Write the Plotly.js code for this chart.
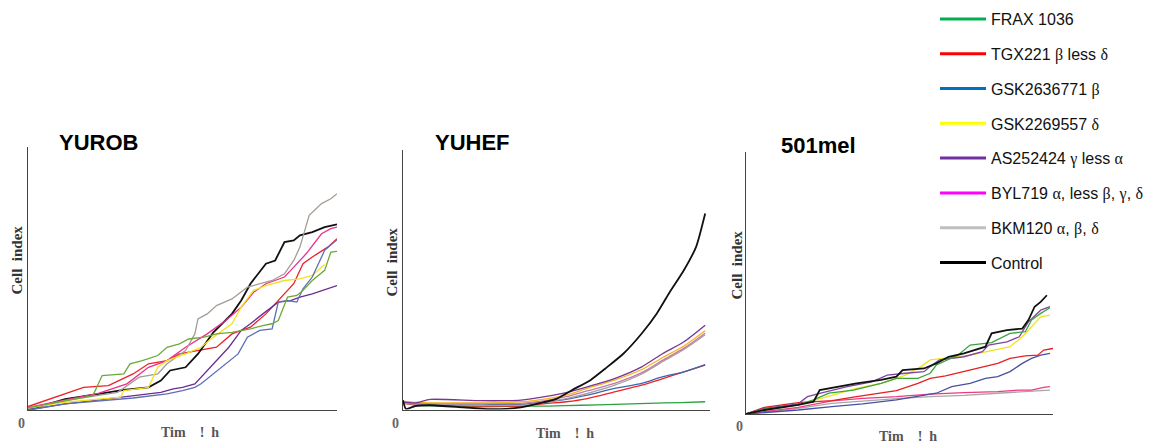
<!DOCTYPE html>
<html><head><meta charset="utf-8">
<script src="https://cdn.plot.ly/plotly-3.0.1.min.js"></script>
<style>html,body{margin:0;padding:0;background:#fff}#chart{width:1158px;height:447px}</style>
</head><body><div id="chart"></div>
<script>
// ---------- labels ----------
const panelTitles = ["YUROB", "YUHEF", "501mel"];
const yAxisLabel = "Cell\u00A0\u00A0index";
const xAxisLabel = "Tim\u00A0\u00A0\u00A0\u00A0!\u00A0\u00A0h";
const originLabel = "0";
const G = s => '<span style="font-family:Liberation Serif">' + s + '</span>';
const legendLabels = [
  "FRAX 1036",
  "TGX221 " + G("β") + " less " + G("δ"),
  "GSK2636771 " + G("β"),
  "GSK2269557 " + G("δ"),
  "AS252424 " + G("γ") + " less " + G("α"),
  "BYL719 " + G("α") + ", less " + G("β") + ", " + G("γ") + ", " + G("δ"),
  "BKM120 " + G("α") + ", " + G("β") + ", " + G("δ"),
  "Control"
];
const legendColors = ["#00b050", "#ff0000", "#0070c0", "#ffff00", "#7030a0", "#ff00ff", "#bfbfbf", "#000000"];

// ---------- YUROB: [time, cell index] ----------
const yurob_frax = [[0,0.08],[12,0.35],[21,0.54],[24,1.29],[31,1.35],[33,1.73],[37,1.85],[42,2.04],[45,2.35],[49,2.48],[52,2.66],[57,2.73],[61,2.85],[66,2.91],[72,3.04],[76,3.16],[79,3.23],[81,3.35],[84,4.23],[87,4.29],[89,4.48],[92,4.85],[96,5.23],[98,5.91],[100,5.94]];
const yurob_tgx = [[0,0.13],[10,0.54],[18,0.85],[26,0.91],[34,1.35],[39,1.73],[45,1.85],[49,2.10],[56,2.23],[61,2.35],[66,2.85],[72,3.10],[77,3.60],[83,4.35],[86,4.73],[89,5.48],[92,5.73],[97,6.10],[100,6.41]];
const yurob_gsk36 = [[0,0],[12,0.23],[34,0.45],[45,0.60],[50,0.73],[54,0.85],[56,0.98],[60,1.35],[65,1.79],[68,2.10],[71,2.73],[75,2.98],[79,3.04],[81,4.04],[84,4.10],[87,4.04],[89,4.54],[92,4.98],[96,5.98],[100,6.38]];
const yurob_gsk22 = [[0,0.08],[12,0.29],[30,0.48],[31,0.73],[39,0.85],[42,1.60],[45,1.85],[51,2.10],[56,2.35],[60,2.73],[66,3.23],[69,3.85],[73,4.48],[77,4.66],[83,4.85],[88,4.91],[92,5.04],[96,5.45]];
const yurob_as = [[0,0],[12,0.23],[23,0.38],[34,0.54],[43,0.66],[47,0.79],[50,0.85],[54,0.98],[57,1.35],[61,1.85],[65,2.35],[69,2.98],[72,3.23],[76,3.60],[81,4.04],[85,4.10],[88,4.23],[92,4.35],[97,4.54],[100,4.66]];
const yurob_byl = [[0,0.10],[12,0.38],[23,0.63],[32,0.98],[39,1.60],[45,1.85],[51,2.35],[58,2.85],[64,3.35],[69,3.85],[73,4.41],[77,4.73],[83,4.98],[86,5.35],[90,5.85],[95,6.60],[98,6.79],[100,6.85]];
const yurob_bkm = [[0,0.04],[12,0.35],[29,0.66],[36,1.23],[42,1.35],[45,1.73],[51,2.23],[54,2.85],[55,3.41],[58,3.60],[61,3.91],[66,4.16],[71,4.60],[75,4.73],[79,4.85],[83,5.10],[86,5.60],[88,6.10],[91,7.29],[95,7.73],[98,7.91],[100,8.10]];
const yurob_control = [[0,0],[12,0.41],[23,0.60],[31,0.75],[39,0.85],[43,1.10],[46,1.48],[51,1.60],[55,2.10],[60,2.91],[66,3.60],[69,4.10],[72,4.73],[77,5.48],[80,5.60],[83,6.29],[86,6.35],[88,6.54],[92,6.66],[96,6.85],[100,6.95]];

// ---------- YUHEF ----------
const yuhef_frax = [[0,0.29],[4,0.16],[15,0.13],[26,0.10],[39,0.13],[48,0.13],[59,0.16],[70,0.19],[81,0.23],[92,0.26],[100,0.29]];
const yuhef_tgx = [[0,0.23],[4,0.18],[26,0.13],[39,0.13],[48,0.23],[54,0.29],[61,0.41],[70,0.66],[79,0.91],[86,1.16],[93,1.41],[100,1.66]];
const yuhef_gsk36 = [[0,0.25],[4,0.22],[26,0.20],[39,0.19],[48,0.29],[54,0.38],[61,0.54],[70,0.79],[79,0.98],[86,1.23],[93,1.41],[100,1.68]];
const yuhef_gsk22 = [[0,0.31],[4,0.27],[26,0.25],[39,0.29],[48,0.41],[54,0.54],[61,0.79],[70,1.10],[79,1.50],[86,1.95],[93,2.38],[100,2.95]];
const yuhef_as = [[0,0.29],[4,0.25],[9,0.38],[26,0.33],[39,0.35],[48,0.50],[54,0.63],[61,0.85],[70,1.16],[79,1.60],[86,2.10],[93,2.54],[100,3.16]];
const yuhef_byl = [[0,0.25],[4,0.22],[26,0.23],[39,0.23],[48,0.35],[54,0.48],[61,0.70],[70,0.98],[79,1.38],[86,1.85],[93,2.30],[100,2.86]];
const yuhef_bkm = [[0,0.23],[4,0.20],[26,0.16],[39,0.16],[48,0.29],[54,0.41],[61,0.60],[70,0.91],[79,1.33],[86,1.80],[93,2.25],[100,2.80]];
const yuhef_control = [[0,0.35],[1,0.02],[4,0.13],[9,0.16],[20,0.08],[29,0.01],[39,0.08],[45,0.23],[51,0.41],[56,0.73],[62,1.10],[67,1.54],[73,2.10],[79,2.85],[84,3.60],[88,4.35],[93,5.23],[97,6.10],[100,7.35]];

// ---------- 501mel ----------
const mel_frax = [[0,0],[6,0.18],[17,0.34],[22,0.53],[27,0.78],[35,0.90],[44,1.15],[49,1.34],[56,1.34],[60,1.53],[62,1.84],[69,2.21],[73,2.59],[80,2.68],[86,3.03],[91,3.09],[93,3.53],[96,3.78],[99,3.99]];
const mel_tgx = [[0,0],[6,0.25],[17,0.43],[23,0.46],[28,0.50],[36,0.65],[44,0.78],[49,0.88],[56,1.15],[60,1.34],[65,1.43],[71,1.59],[78,1.78],[82,1.90],[86,2.09],[91,2.18],[95,2.21],[97,2.40],[100,2.46]];
const mel_gsk36 = [[0,0],[17,0.15],[28,0.28],[38,0.38],[49,0.53],[56,0.65],[62,0.78],[67,1.03],[73,1.15],[78,1.34],[82,1.40],[86,1.59],[90,1.90],[93,2.09],[96,2.21],[99,2.28]];
const mel_gsk22 = [[0,0],[6,0.15],[17,0.34],[28,0.71],[36,0.96],[44,1.15],[52,1.46],[57,1.78],[60,2.03],[67,2.13],[73,2.21],[80,2.38],[86,2.53],[90,2.90],[93,3.28],[96,3.65],[99,3.71]];
const mel_as = [[0,0],[6,0.21],[17,0.38],[20,0.65],[25,0.80],[33,1.03],[41,1.21],[46,1.46],[52,1.53],[58,1.59],[60,1.78],[63,2.03],[71,2.15],[77,2.34],[79,2.59],[85,2.71],[89,2.90],[92,3.46],[96,3.90],[99,4.03]];
const mel_byl = [[0,0],[17,0.25],[28,0.49],[38,0.59],[49,0.65],[60,0.75],[71,0.80],[82,0.84],[89,0.90],[93,0.90],[97,1.00],[99,1.03]];
const mel_bkm = [[0,0],[17,0.21],[28,0.40],[38,0.49],[49,0.58],[60,0.65],[71,0.70],[82,0.78],[93,0.84],[99,0.90]];
const mel_control = [[0,0],[6,0.15],[17,0.34],[22,0.46],[24,0.90],[30,1.03],[36,1.15],[44,1.28],[49,1.40],[51,1.65],[58,1.71],[62,1.90],[66,2.15],[71,2.28],[78,2.53],[80,3.03],[85,3.15],[90,3.21],[92,3.53],[94,4.03],[96,4.21],[98,4.46]];

// ---------- styling ----------
const W = 1158, H = 447;
const px = v => v / W, py = v => 1 - v / H;

const panels = [
  { series: [yurob_frax, yurob_tgx, yurob_gsk36, yurob_gsk22, yurob_as, yurob_byl, yurob_bkm, yurob_control],
    colors: ["#6fa83a", "#ee2028", "#5b6fb5", "#f4e21e", "#6b2d8f", "#ec2f8e", "#a59c94", "#111111"],
    order: [1, 7, 5, 6, 4, 3, 2, 0], shape: "linear",
    xd: [28, 337], yd: [410, 147], xr: [0, 100], yr: [0, 9.85],
    title: [98.5, 143], ylab: [16.5, 260], xlab: [190, 432], zero: [21, 423] },
  { series: [yuhef_frax, yuhef_tgx, yuhef_gsk36, yuhef_gsk22, yuhef_as, yuhef_byl, yuhef_bkm, yuhef_control],
    colors: ["#2ca040", "#ee2222", "#3a67b0", "#f4b41c", "#7b3594", "#c27aa8", "#a8a0a0", "#111111"],
    order: [0, 1, 2, 6, 5, 3, 4, 7], shape: "spline",
    xd: [403, 710], yd: [409.5, 150], xr: [0, 101.6], yr: [0, 9.73],
    title: [472, 143], ylab: [391.5, 262], xlab: [565, 433], zero: [395, 423] },
  { series: [mel_frax, mel_tgx, mel_gsk36, mel_gsk22, mel_as, mel_byl, mel_bkm, mel_control],
    colors: ["#3aa53a", "#e52020", "#4a4fa0", "#f2e21a", "#8244a2", "#ee3a82", "#a8a8a8", "#111111"],
    order: [6, 5, 2, 1, 3, 4, 0, 7], shape: "linear",
    xd: [746, 1053], yd: [414, 152], xr: [0, 100], yr: [0, 9.84],
    title: [818, 145], ylab: [736.5, 265], xlab: [908, 436], zero: [739, 426] }
];

const traces = [];
const layout = {
  width: W, height: H, margin: {l: 0, r: 0, t: 0, b: 0},
  paper_bgcolor: "#fff", plot_bgcolor: "rgba(0,0,0,0)",
  showlegend: true,
  legend: { x: px(935), xanchor: "left", y: py(2), yanchor: "top",
            font: {family: "Liberation Sans", size: 16, color: "#111"},
            bgcolor: "rgba(0,0,0,0)", tracegroupgap: 11, itemwidth: 46 },
  annotations: []
};

const axisStyle = { showline: true, linecolor: "#444", linewidth: 1, showgrid: false,
  zeroline: false, showticklabels: false, ticks: "", fixedrange: true };

panels.forEach((p, i) => {
  const n = i + 1;
  const xa = "xaxis" + (n === 1 ? "" : n), ya = "yaxis" + (n === 1 ? "" : n);
  const xr = "x" + (n === 1 ? "" : n), yr = "y" + (n === 1 ? "" : n);
  layout[xa] = Object.assign({}, axisStyle, { domain: [px(p.xd[0]), px(p.xd[1])], range: p.xr, anchor: yr });
  layout[ya] = Object.assign({}, axisStyle, { domain: [py(p.yd[0]), py(p.yd[1])], range: p.yr, anchor: xr });
  p.order.forEach(k => {
    const s = p.series[k];
    traces.push({ type: "scatter", mode: "lines", xaxis: xr, yaxis: yr,
      x: s.map(d => d[0]), y: s.map(d => d[1]), showlegend: false, hoverinfo: "skip",
      line: { color: p.colors[k], width: k === 7 ? 1.8 : 1.3, shape: p.shape, smoothing: 0.6 } });
  });
  layout.annotations.push(
    { xref: "paper", yref: "paper", x: px(p.title[0]), y: py(p.title[1]), xanchor: "center", yanchor: "middle",
      showarrow: false, text: panelTitles[i], font: {family: "Liberation Sans", size: 22, weight: "bold", color: "#000"} },
    { xref: "paper", yref: "paper", x: px(p.ylab[0]), y: py(p.ylab[1]), xanchor: "center", yanchor: "middle",
      showarrow: false, textangle: -90, text: yAxisLabel, font: {family: "Liberation Serif", size: 15, weight: "bold", color: "#333"} },
    { xref: "paper", yref: "paper", x: px(p.xlab[0]), y: py(p.xlab[1]), xanchor: "center", yanchor: "middle",
      showarrow: false, text: xAxisLabel, font: {family: "Liberation Serif", size: 14, weight: "bold", color: "#555"} },
    { xref: "paper", yref: "paper", x: px(p.zero[0]), y: py(p.zero[1]), xanchor: "center", yanchor: "middle",
      showarrow: false, text: originLabel, font: {family: "Liberation Serif", size: 14, weight: "bold", color: "#666"} }
  );
});

// legend entries (legend key only, no data drawn)
legendLabels.forEach((name, k) => {
  traces.push({ type: "scatter", mode: "lines", x: [null], y: [null], xaxis: "x3", yaxis: "y3",
    name: name, legendgroup: "g" + k, hoverinfo: "skip",
    line: { color: legendColors[k], width: 3 } });
});

Plotly.newPlot("chart", traces, layout, {staticPlot: true, displayModeBar: false});
</script>
</body></html>
